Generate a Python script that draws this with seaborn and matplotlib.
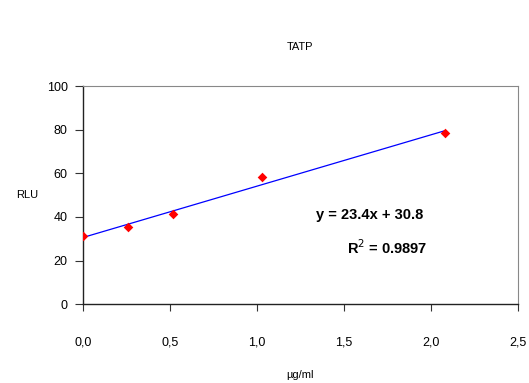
"""
TATP calibration curve: RLU vs concentration with linear trendline
"""
import matplotlib
matplotlib.use("Agg")
import matplotlib.pyplot as plt
import seaborn as sns
import numpy as np
import pandas as pd
from matplotlib.ticker import FuncFormatter

# data
conc = [0.0, 0.26, 0.52, 1.03, 2.08]
rlu = [31.2, 35.3, 41.3, 58.3, 78.4]
x_ticks = [0.0, 0.5, 1.0, 1.5, 2.0, 2.5]
y_ticks = [0, 20, 40, 60, 80, 100]
equation = "y = 23.4x + 30.8"
r2_text = "R$^2$ = 0.9897"

df = pd.DataFrame({"conc": conc, "rlu": rlu})

sns.set_style("ticks")
plt.rcParams['font.family'] = ['Liberation Sans', 'DejaVu Sans']
plt.rcParams['text.color'] = 'black'
plt.rcParams['axes.labelcolor'] = 'black'
plt.rcParams['xtick.color'] = 'black'
plt.rcParams['ytick.color'] = 'black'

fig = plt.figure(figsize=(5.29, 3.83), dpi=100)
ax = fig.add_axes([0.157, 0.206, 0.822, 0.569])

sns.regplot(data=df, x="conc", y="rlu", ax=ax, ci=None, marker="D",
            scatter_kws={'color': 'red', 's': 24, 'zorder': 3,
                         'linewidths': 0, 'alpha': 1},
            line_kws={'color': 'blue', 'linewidth': 0.9})

ax.set_xlim(0, 2.5)
ax.set_ylim(0, 100)
ax.set_xticks(x_ticks)
ax.set_yticks(y_ticks)
ax.xaxis.set_major_formatter(FuncFormatter(lambda v, _: f"{v:.1f}".replace('.', ',')))
ax.tick_params(axis='x', labelsize=9, length=5, pad=18, color='#333333')
ax.tick_params(axis='y', labelsize=9, length=6, pad=5, color='#333333')

for side in ['left', 'bottom']:
    ax.spines[side].set_color('#222222')
    ax.spines[side].set_linewidth(1.0)
for side in ['top', 'right']:
    ax.spines[side].set_visible(True)
    ax.spines[side].set_color('#888888')
    ax.spines[side].set_linewidth(0.8)

ax.set_xlabel('µg/ml', fontsize=8, labelpad=16)
ax.set_ylabel('RLU', fontsize=8, rotation=0, labelpad=14, va='center')
ax.set_title('TATP', fontsize=8, pad=26)

ax.text(0.66, 0.41, equation, transform=ax.transAxes, fontsize=10.5,
        fontweight='bold', ha='center', va='center', color='black')
ax.text(0.70, 0.26, r2_text, transform=ax.transAxes, fontsize=10.5,
        fontweight='bold', ha='center', va='center', color='black')

fig.savefig('out.png', dpi=100)
